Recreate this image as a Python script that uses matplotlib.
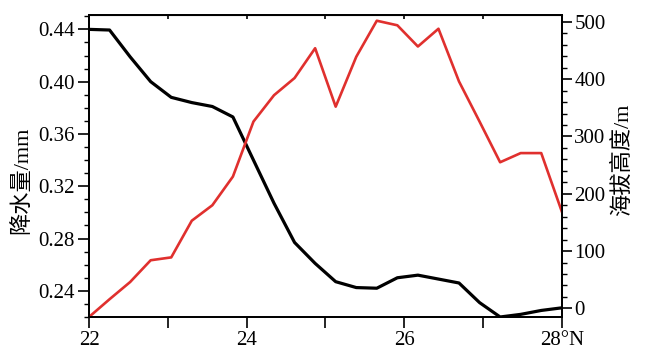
import numpy as np
import matplotlib
matplotlib.use("Agg")
import matplotlib.pyplot as plt
from matplotlib.ticker import MultipleLocator

plt.rcParams['font.family'] = ['Liberation Serif', 'Noto Sans CJK SC']

# latitude, 24 evenly spaced stations from 22 to 28 N
lat = np.linspace(22, 28, 24)

precip = [0.440, 0.4395, 0.419, 0.400, 0.388, 0.384, 0.381, 0.373,
          0.340, 0.307, 0.277, 0.261, 0.247, 0.2425, 0.242, 0.250,
          0.252, 0.249, 0.246, 0.231, 0.220, 0.222, 0.225, 0.227]

elev = [-15, 16, 46, 84, 89, 153, 180, 230,
        326, 372, 402, 454, 352, 439, 502, 494,
        457, 488, 396, 326, 255, 271, 271, 169]

xticks = [22, 24, 26, 28]
xlabels = ["22", "24", "26", "28°N"]

fig = plt.figure(figsize=(6.45, 3.56), dpi=100)
ax = fig.add_axes([0.138, 0.1096, 0.733, 0.8483])
ax2 = ax.twinx()

ax.plot(lat, precip, color="black", lw=2.3)
ax2.plot(lat, elev, color="#e0302e", lw=1.9)

ax.set_xlim(22, 28)
ax.set_ylim(0.22, 0.451)
ax2.set_ylim(-15, 512)

ax.set_xticks(xticks)
ax.set_xticklabels(xlabels)
ax.xaxis.set_minor_locator(MultipleLocator(1))
ax.set_yticks([0.24, 0.28, 0.32, 0.36, 0.40, 0.44])
ax.set_yticklabels(["0.24", "0.28", "0.32", "0.36", "0.40", "0.44"])
ax.yaxis.set_minor_locator(MultipleLocator(0.01))
ax2.set_yticks([0, 100, 200, 300, 400, 500])
ax2.yaxis.set_minor_locator(MultipleLocator(20))

ax.tick_params(axis="x", which="both", direction="out", length=8, width=1.2,
               labelsize=15, pad=2)
ax.tick_params(axis="y", which="major", direction="out", length=8, width=1.2,
               labelsize=15, pad=2)
ax.tick_params(axis="y", which="minor", direction="out", length=3.5, width=1)
ax2.tick_params(axis="y", which="major", direction="out", length=7, width=1.2,
                labelsize=15, pad=2)
ax2.tick_params(axis="y", which="minor", direction="out", length=3.5, width=1)

# short inward ticks along the top edge
top = ax.secondary_xaxis("top")
top.set_xticks(np.arange(22, 29, 1))
top.tick_params(direction="in", length=3, width=1.2, labeltop=False)

for a in (ax, ax2):
    for s in a.spines.values():
        s.set_linewidth(1.3)

ax.set_ylabel("降水量/mm", fontsize=16)
ax2.set_ylabel("海拔高度/m", fontsize=16)
ax.yaxis.set_label_coords(-0.12, 0.454)
ax2.yaxis.set_label_coords(1.106, 0.52)

fig.savefig("out.png", dpi=100)
